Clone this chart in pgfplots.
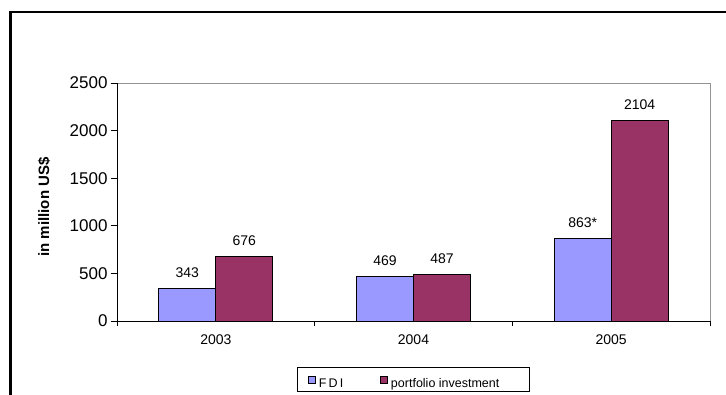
\documentclass[border=0pt]{standalone}
\usepackage{pgfplots}
\pgfplotsset{compat=1.18}
\usepackage{fontspec}
\setmainfont{Liberation Sans}
\definecolor{fdi}{HTML}{9999FF}
\definecolor{pinv}{HTML}{993366}
\begin{document}
\begin{tikzpicture}[x=1pt,y=1pt]
\useasboundingbox (0,0) rectangle (726,394);
\clip (0,0) rectangle (726,394);
\fill[white] (0,0) rectangle (726,394);
\draw[line width=2.5pt] (10.5,-10) -- (10.5,382) -- (740,382);
\begin{axis}[
  at={(117pt,73pt)}, anchor=south west,
  width=593pt, height=238pt, scale only axis,
  xmin=-0.5, xmax=2.5, ymin=0, ymax=2500,
  ybar=0pt, bar width=57pt,
  axis x line*=bottom, axis y line*=left,
  axis line style={black, line width=0.8pt},
  axis background/.style={draw=gray!85, line width=0.8pt},
  xtick={0,1,2}, xticklabels={2003,2004,2005},
  minor xtick={-0.5,0.5,1.5,2.5},
  major x tick style={draw=none},
  tick style={black, line width=0.8pt},
  ytick={0,500,...,2500},
  tick align=outside,
  major tick length=6pt, minor tick length=5pt,
  /pgf/number format/assume math mode=true,
  x tick label style={font=\fontsize{14}{16}\selectfont, yshift=-4pt},
  y tick label style={font=\fontsize{17}{19}\selectfont, /pgf/number format/1000 sep={}},
  ylabel={in million US\$},
  ylabel style={font=\bfseries\fontsize{15}{17}\selectfont, at={(axis description cs:-0.123,0.479)}, anchor=center},
  nodes near coords, point meta=explicit symbolic,
  nodes near coords style={font=\fontsize{14}{16}\selectfont, yshift=7pt, black},
  legend style={at={(0.5,-0.2437)}, anchor=center, legend columns=2, draw=black, line width=0.6pt,
    inner xsep=0pt, inner ysep=0pt, nodes={inner sep=0pt}, font=\fontsize{12.5}{14}\selectfont},
  legend image code/.code={\path[draw=none, fill=none] (0pt,-7.2pt) rectangle (20pt,16.8pt);
    \draw[#1, draw=black, line width=0.6pt] (11pt,0.8pt) rectangle (18pt,7.8pt);},
]
\addplot[fill=fdi, draw=black, line width=1pt] coordinates {(0,343)[343] (1,469)[469] (2,863)[863*]};
\addlegendentry{\makebox[52pt][l]{\hspace{1.5pt}F\,D\,I}}
\addplot[fill=pinv, draw=black, line width=1pt] coordinates {(0,676)[676] (1,487)[487] (2,2104)[2104]};
\addlegendentry{\makebox[140pt][l]{\hspace{1.5pt}portfolio investment}}
\end{axis}
\end{tikzpicture}
\end{document}
